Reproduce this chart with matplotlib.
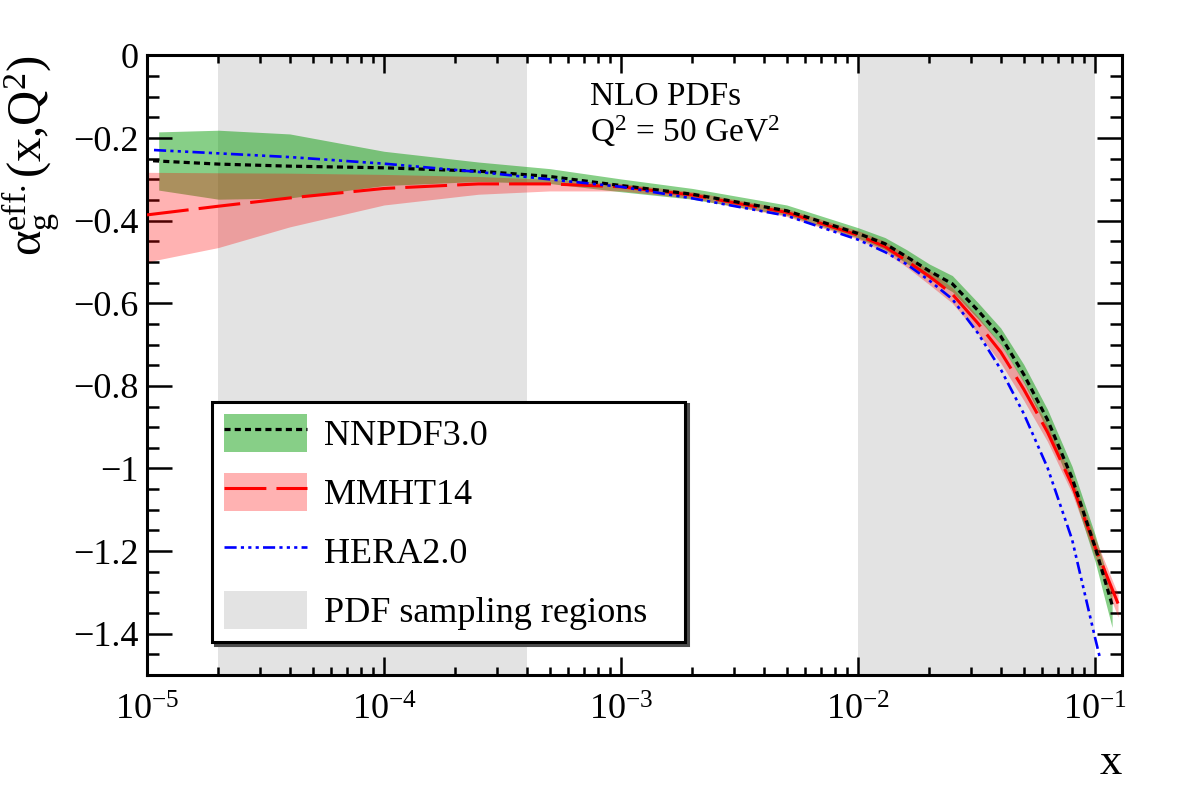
import matplotlib
matplotlib.use('Agg')
import matplotlib.pyplot as plt
from matplotlib.patches import Patch
from matplotlib.ticker import MultipleLocator, FuncFormatter

# Font mirip Times
plt.rcParams['font.family'] = ['Liberation Serif', 'DejaVu Serif']
plt.rcParams['mathtext.fontset'] = 'custom'
plt.rcParams['mathtext.rm'] = 'Liberation Serif'
plt.rcParams['mathtext.it'] = 'Liberation Serif:italic'
plt.rcParams['mathtext.bf'] = 'Liberation Serif:bold'

# Data NNPDF3.0 (garis tengah dan pita)
x_nn_line = [1.06e-5, 2e-5, 4e-5, 1e-4, 2.5e-4, 5e-4, 1e-3, 2e-3, 5e-3, 1e-2, 1.3e-2,
             1.6e-2, 2e-2, 2.5e-2, 3.2e-2, 4e-2, 5e-2, 6.3e-2, 8e-2, 0.1, 0.118]
nn_central = [-0.255, -0.263, -0.268, -0.272, -0.280, -0.293, -0.315, -0.336, -0.376, -0.431, -0.456,
              -0.487, -0.522, -0.553, -0.617, -0.680, -0.772, -0.882, -1.023, -1.190, -1.330]
x_nn_band = [1.12e-5, 2e-5, 4e-5, 1e-4, 2.5e-4, 5e-4, 1e-3, 2e-3, 5e-3, 1e-2, 1.3e-2,
             1.6e-2, 2e-2, 2.5e-2, 3.2e-2, 4e-2, 5e-2, 6.3e-2, 8e-2, 0.1, 0.118]
nn_upper = [-0.185, -0.181, -0.190, -0.232, -0.258, -0.274, -0.299, -0.322, -0.362, -0.417, -0.441,
            -0.470, -0.505, -0.533, -0.598, -0.660, -0.748, -0.857, -0.995, -1.160, -1.300]
nn_lower = [-0.326, -0.348, -0.345, -0.315, -0.305, -0.310, -0.330, -0.348, -0.387, -0.442, -0.470,
            -0.503, -0.540, -0.572, -0.637, -0.700, -0.792, -0.908, -1.050, -1.225, -1.385]

# Data MMHT14
x_mm = [1e-5, 2e-5, 4e-5, 1e-4, 2.5e-4, 5e-4, 1e-3, 2e-3, 5e-3, 1e-2, 1.3e-2,
        1.6e-2, 2e-2, 2.5e-2, 3.2e-2, 4e-2, 5e-2, 6.3e-2, 8e-2, 0.1, 0.125]
mm_central = [-0.386, -0.365, -0.345, -0.322, -0.311, -0.311, -0.318, -0.338, -0.380, -0.435, -0.463,
              -0.497, -0.535, -0.578, -0.648, -0.718, -0.808, -0.912, -1.040, -1.190, -1.327]
mm_upper = [-0.283, -0.284, -0.285, -0.288, -0.293, -0.300, -0.310, -0.330, -0.371, -0.424, -0.450,
            -0.483, -0.520, -0.562, -0.632, -0.700, -0.790, -0.895, -1.020, -1.168, -1.305]
mm_lower = [-0.500, -0.465, -0.415, -0.362, -0.336, -0.328, -0.328, -0.346, -0.390, -0.445, -0.476,
            -0.512, -0.555, -0.600, -0.672, -0.745, -0.835, -0.935, -1.060, -1.215, -1.360]

# Data HERA2.0
x_hera = [1.07e-5, 2e-5, 4e-5, 1e-4, 2.5e-4, 5e-4, 1e-3, 2e-3, 5e-3, 1e-2, 1.3e-2,
          1.6e-2, 2e-2, 2.5e-2, 3.2e-2, 4e-2, 5e-2, 6.3e-2, 8e-2, 0.1, 0.105]
hera = [-0.229, -0.237, -0.246, -0.262, -0.282, -0.300, -0.318, -0.346, -0.388, -0.446, -0.476,
        -0.505, -0.545, -0.590, -0.672, -0.760, -0.867, -0.998, -1.172, -1.410, -1.460]

# Daerah sampling PDF
sampling_regions = [(2e-5, 4e-4), (1e-2, 0.1)]

warna_abu = '#e3e3e3'
warna_hijau = (0.0, 0.6, 0.0)
alpha_hijau = 0.47
warna_merah = (1.0, 0.0, 0.0)
alpha_merah = 0.3

fig = plt.figure(figsize=(11.82, 8.05), dpi=100)
ax = fig.add_axes([0.1244, 0.1615, 0.8249, 0.7696])

for kiri, kanan in sampling_regions:
    ax.axvspan(kiri, kanan, color=warna_abu, lw=0, zorder=0)

ax.fill_between(x_nn_band, nn_lower, nn_upper, color=warna_hijau, alpha=alpha_hijau, lw=0, zorder=1)
ax.fill_between(x_mm, mm_lower, mm_upper, color=warna_merah, alpha=alpha_merah, lw=0, zorder=2)

garis_nn, = ax.plot(x_nn_line, nn_central, color='black', lw=2.3, dashes=(1.9, 1.3), zorder=4)
garis_mm, = ax.plot(x_mm, mm_central, color='red', lw=2.2, dashes=(13.7, 3.3), zorder=3)
garis_hera, = ax.plot(x_hera, hera, color='blue', lw=1.9,
                      dashes=(4.6, 1.6, 1.2, 1.6, 1.2, 1.6, 1.2, 1.6), zorder=5)

# Sumbu
ax.set_xscale('log')
ax.set_xlim(1e-5, 0.13)
ax.set_ylim(-1.5, 0)
ax.yaxis.set_major_locator(MultipleLocator(0.2))
ax.yaxis.set_minor_locator(MultipleLocator(0.05))
ax.yaxis.set_major_formatter(FuncFormatter(lambda v, p: f'{round(v, 2):g}'.replace('-', '\u2212')))

for s in ax.spines.values():
    s.set_linewidth(2.2)
ax.tick_params(axis='both', which='both', direction='in', top=True, right=True, width=1.8,
               labelsize=26)
ax.tick_params(axis='y', which='major', length=18, pad=6)
ax.tick_params(axis='y', which='minor', length=8.6)
ax.tick_params(axis='x', which='major', length=13, pad=14)
ax.tick_params(axis='x', which='minor', length=6)

ax.set_ylabel(r'$\mathrm{\alpha_{g}^{eff.}(x{,}Q^{2})}$', fontsize=35, loc='top')
ax.yaxis.set_label_coords(-0.087, 1.0)
ax.set_xlabel('x', fontsize=32, loc='right')
ax.xaxis.set_label_coords(1.0, -0.11)

# Keterangan
ax.text(0.454, 0.920, 'NLO PDFs', transform=ax.transAxes, fontsize=24, va='baseline')
ax.text(0.454, 0.860, r'Q$^{2}$ = 50 GeV$^{2}$', transform=ax.transAxes, fontsize=24, va='baseline')

# Legenda
patch_nn = Patch(facecolor=warna_hijau, alpha=alpha_hijau, lw=0)
patch_mm = Patch(facecolor=warna_merah, alpha=alpha_merah, lw=0)
patch_abu = Patch(facecolor=warna_abu, lw=0)
leg = ax.legend([(patch_nn, garis_nn), (patch_mm, garis_mm), garis_hera, patch_abu],
                ['NNPDF3.0', 'MMHT14', 'HERA2.0', 'PDF sampling regions'],
                loc='lower left', bbox_to_anchor=(0.0667, 0.0533, 0.485, 0.387), mode='expand',
                borderaxespad=0, fontsize=26, handlelength=2.3, handleheight=1.25,
                handletextpad=0.47, labelspacing=0.55, borderpad=0.33, fancybox=False,
                framealpha=1, edgecolor='black',
                shadow={'color': '0.3', 'alpha': 1.0})
leg.get_frame().set_linewidth(2.2)
leg.set_zorder(10)

plt.savefig('out.png', dpi=100)
